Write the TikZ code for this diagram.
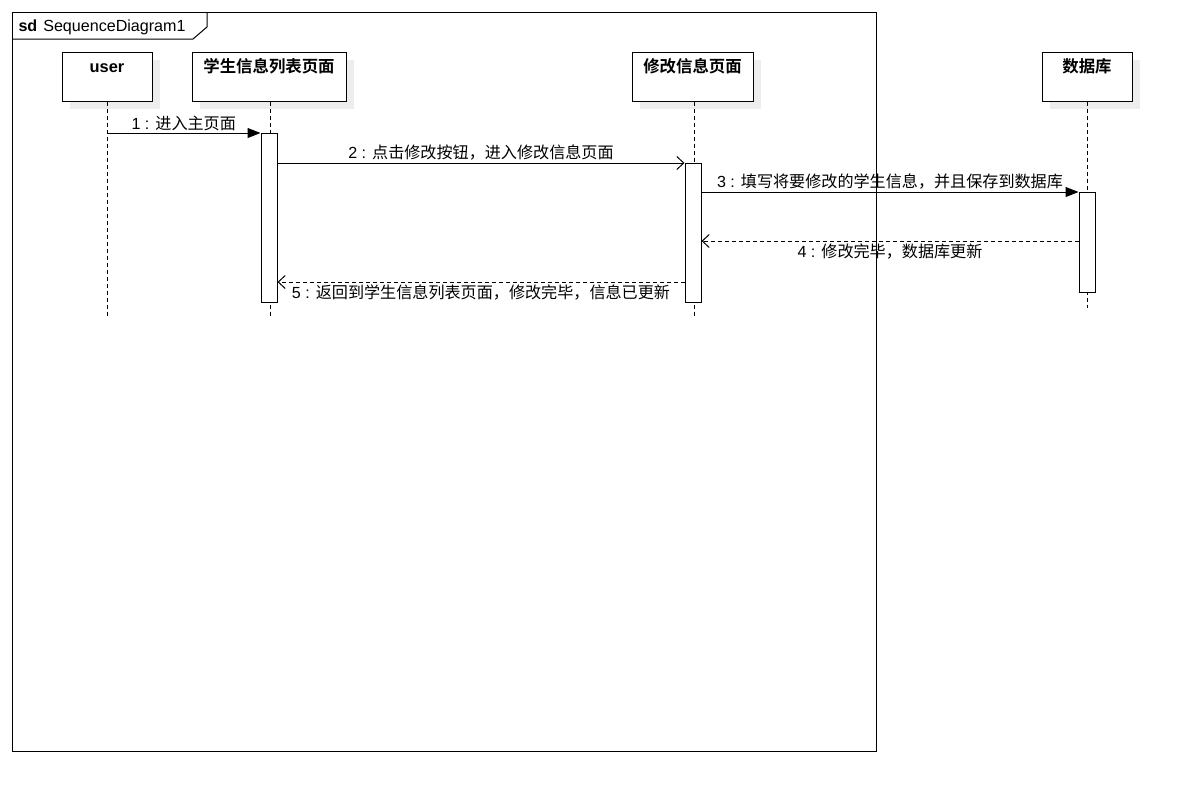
\documentclass[tikz,border=0pt]{standalone}
\usepackage{fontspec}
\setmainfont{Liberation Sans}
\newfontfamily\cjk{Noto Sans CJK SC}[BoldFont={Noto Sans CJK SC Bold}]
\usetikzlibrary{positioning,arrows.meta,calc,shadows}
\definecolor{shadowgrey}{gray}{0.93}
\tikzset{
  seq/.style={font=\fontsize{16.1}{19}\selectfont},
  hdr/.style={draw,fill=white,minimum height=49pt,inner sep=0pt,
              drop shadow={shadow xshift=8pt,shadow yshift=-8pt,fill=shadowgrey,opacity=1}},
  hdrtxt/.style={font=\fontsize{16.4}{19}\selectfont\bfseries,anchor=base,inner sep=0pt},
  life/.style={dash pattern=on 4pt off 3pt},
  act/.style={draw,fill=white,minimum width=16pt,inner sep=0pt,anchor=north},
  sync/.style={-{Triangle[length=13pt,width=10pt]}},
  reply/.style={dash pattern=on 4pt off 3pt,-{Straight Barb[length=7pt,width=13pt]}},
  async/.style={-{Straight Barb[length=7pt,width=13pt]}},
  lbl/.style={inner sep=2pt},
}
\begin{document}
\begin{tikzpicture}[seq,x=1pt,y=-1pt,line width=1pt]
\useasboundingbox (0,0) rectangle (1181,801);

% frame
\draw (12,12) rectangle (876,751);
\draw (12,39) -- (193,39) -- (207,27) -- (207,12);
\node[anchor=base west,inner sep=0pt] (sdlbl) at (18,31) {\textbf{sd}\hspace{6pt}SequenceDiagram1};

% lifeline heads
\node[hdr,minimum width=90pt]  (user) at (107,76.5)   {};
\node[hdr,minimum width=154pt] (list) at (269,76.5)   {};
\node[hdr,minimum width=121pt] (edit) at (692.5,76.5) {};
\node[hdr,minimum width=90pt]  (db)   at (1087,76.5)  {};
\node[hdrtxt] at ($(user.north)+(0,21)$) {user};
\node[hdrtxt] at ($(list.north)+(0,21)$) {\cjk 学生信息列表页面};
\node[hdrtxt] at ($(edit.north)+(0,21)$) {\cjk 修改信息页面};
\node[hdrtxt] at ($(db.north)+(0,21)$)   {\cjk 数据库};

% lifelines
\coordinate (userend) at (107,316);
\coordinate (listend) at (270,316);
\coordinate (editend) at (694,316);
\coordinate (dbend)   at (1087,308);
\draw[life] (user.south) -- (userend);
\draw[life] (list.south -| listend) -- (listend);
\draw[life] (edit.south -| editend) -- (editend);
\draw[life] (db.south) -- (dbend);

% activations
\node[act,minimum height=169pt] (alist) at (269,133) {};
\node[act,minimum height=139pt] (aedit) at (693,163) {};
\node[act,minimum height=100pt] (adb)   at (1087,192) {};

% messages
\draw[sync] (user.south |- alist.north) -- (alist.north west)
  node[midway,above,lbl] {1 : \cjk 进入主页面};
\draw[async] (alist.east |- aedit.north) -- (aedit.north west)
  node[midway,above,lbl] {2 : \cjk 点击修改按钮，进入修改信息页面};
\draw[sync] (aedit.east |- adb.north) -- (adb.north west)
  node[midway,above,lbl] {3 : \cjk 填写将要修改的学生信息，并且保存到数据库};
\draw[reply] ($(adb.north west)+(0,49)$) -- (aedit.east |- {$(adb.north west)+(0,49)$})
  node[midway,below,lbl] {4 : \cjk 修改完毕，数据库更新};
\draw[reply] ($(aedit.north west)+(0,119)$) -- (alist.east |- {$(aedit.north west)+(0,119)$})
  node[midway,below,lbl] {5 : \cjk 返回到学生信息列表页面，修改完毕，信息已更新};

\end{tikzpicture}
\end{document}
